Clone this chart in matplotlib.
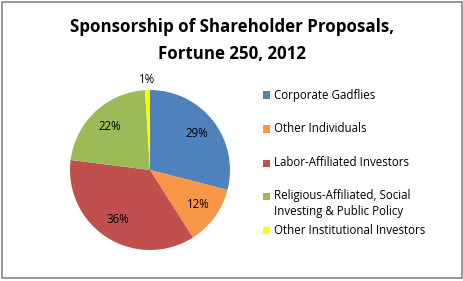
import matplotlib.pyplot as plt
from matplotlib.patches import Rectangle

# chart data
categories = ["Corporate Gadflies", "Other Individuals", "Labor-Affiliated Investors",
              "Religious-Affiliated, Social\nInvesting & Public Policy",
              "Other Institutional Investors"]
shares = [29, 12, 36, 22, 1]
pct_labels = ["29%", "12%", "36%", "22%", "1%"]
colors = ["#4F81BD", "#F79646", "#C0504D", "#9BBB59", "#FFFF00"]

W, H = 464, 281
fig = plt.figure(figsize=(W / 100, H / 100), dpi=100)
plt.rcParams['font.family'] = ['Open Sans', 'DejaVu Sans']

def fx(px):
	return px / W

def fy(py):
	return 1 - py / H

# outer gray frame
fig.patches.append(Rectangle((fx(2), fy(278)), fx(460), 276 / H, transform=fig.transFigure,
                             fill=False, edgecolor="#868686", linewidth=1.2))

fig.text(0.5, fy(27), "Sponsorship of Shareholder Proposals,", ha="center", va="center",
         fontsize=12.2, fontweight="bold")
fig.text(0.5, fy(54), "Fortune 250, 2012", ha="center", va="center",
         fontsize=12.2, fontweight="bold")

# pie centred at (150, 170) px, radius 80 px
cx, cy, r = 150, 170, 80
ax = fig.add_axes([fx(cx - r), fy(cy + r), 2 * r / W, 2 * r / H])
wedges, texts = ax.pie(shares, colors=colors, startangle=90, counterclock=False,
                       labels=pct_labels, labeldistance=0.74,
                       textprops=dict(fontsize=8.3, ha="center", va="center"),
                       wedgeprops=dict(linewidth=0))
texts[-1].set_position((-0.04, 1.13))
ax.set_aspect("auto")
ax.set_xlim(-1, 1)
ax.set_ylim(-1, 1)
ax.axis("off")

# legend drawn by hand to keep Excel's spacing
legend_y = [95, 129, 163, 203.5, 230]
for name, col, y in zip(categories, colors, legend_y):
	first_y = y - 7.5 if "\n" in name else y
	fig.patches.append(Rectangle((fx(263), fy(first_y + 3.5)), 7 / W, 7 / H,
	                             transform=fig.transFigure, facecolor=col, edgecolor="none"))
	fig.text(fx(274), fy(y), name, ha="left", va="center", fontsize=8.3, linespacing=1.2)

fig.savefig("out.png", dpi=100, facecolor="white")
